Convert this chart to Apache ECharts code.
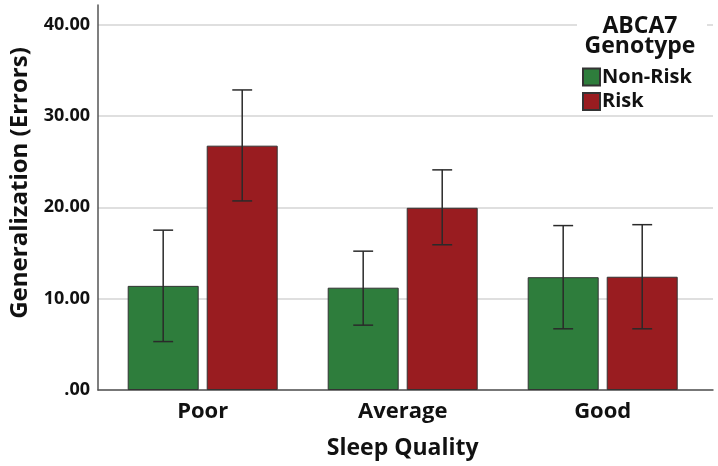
<!DOCTYPE html>
<html><head><meta charset="utf-8">
<script src="https://cdn.jsdelivr.net/npm/echarts@6/dist/echarts.min.js"></script>
<style>html,body{margin:0;padding:0;background:#fff}#c{width:718px;height:466px}</style>
</head><body><div id="c"></div>
<script>
const categories = ['Poor', 'Average', 'Good'];
const seriesNames = ['Non-Risk', 'Risk'];
const nonRiskMean = [11.4, 11.2, 12.35];
const riskMean = [26.75, 19.95, 12.4];
const nonRiskLow = [5.3, 7.1, 6.7];
const nonRiskHigh = [17.5, 15.2, 18.0];
const riskLow = [20.7, 15.9, 6.7];
const riskHigh = [32.85, 24.1, 18.1];
const yTickValues = [0, 10, 20, 30, 40];
const yTickLabels = ['.00', '10.00', '20.00', '30.00', '40.00'];
const yMax = 42.15;

const FONT = 'Open Sans';
const GREEN = '#2E7D3C', RED = '#991C20';
const BAR_FRAC = 0.355, GAP_FRAC = 0.113;

function errRenderer(sign) {
  return function (params, api) {
    const idx = api.value(0);
    const lo = api.coord([idx, api.value(1)]);
    const hi = api.coord([idx, api.value(2)]);
    const band = api.size([1, 0])[0];
    const bw = band * BAR_FRAC;
    const x = lo[0] + sign * bw * (1 + GAP_FRAC) / 2;
    const cap = bw * 0.14;
    const st = { stroke: '#2a2a2a', lineWidth: 1.5 };
    return { type: 'group', children: [
      { type: 'line', shape: { x1: x, y1: lo[1], x2: x, y2: hi[1] }, style: st },
      { type: 'line', shape: { x1: x - cap, y1: hi[1], x2: x + cap, y2: hi[1] }, style: st },
      { type: 'line', shape: { x1: x - cap, y1: lo[1], x2: x + cap, y2: lo[1] }, style: st }
    ]};
  };
}

const chart = echarts.init(document.getElementById('c'));
chart.setOption({
  backgroundColor: '#fff',
  animation: false,
  grid: [
    { left: 92, top: 5, width: 621, height: 385 },
    { left: 102.7, top: 5, width: 600, height: 385 }
  ],
  xAxis: [
    { gridIndex: 0, type: 'value', min: 0, max: 1, axisLine: { show: true, lineStyle: { color: '#555', width: 1.5 } },
      axisTick: { show: false }, axisLabel: { show: false }, splitLine: { show: false } },
    { gridIndex: 1, type: 'category', data: categories,
      axisLine: { show: false }, axisTick: { show: false },
      axisLabel: { color: '#111', fontFamily: FONT, fontWeight: 'bold', fontSize: 22, margin: 11 },
      name: 'Sleep Quality', nameLocation: 'middle', nameGap: 47,
      nameTextStyle: { color: '#111', fontFamily: FONT, fontWeight: 'bold', fontSize: 23 } }
  ],
  yAxis: [
    { gridIndex: 0, type: 'value', min: 0, max: yMax, interval: 10,
      axisLine: { show: true, lineStyle: { color: '#555', width: 1.5 } },
      axisTick: { show: false },
      axisLabel: { color: '#111', fontFamily: FONT, fontWeight: 'bold', fontSize: 18, margin: 8,
        formatter: v => { const i = yTickValues.indexOf(v); return i >= 0 ? yTickLabels[i] : ''; } },
      splitLine: { show: true, lineStyle: { color: ['#d4d4d4', '#d4d4d4', '#d4d4d4', '#d4d4d4', '#d4d4d4', 'rgba(0,0,0,0)'], width: 1.5 } },
      name: 'Generalization (Errors)', nameLocation: 'middle', nameGap: 66, nameRotate: 90,
      nameTextStyle: { color: '#111', fontFamily: FONT, fontWeight: 'bold', fontSize: 24, padding: [0, 0, 0, 29] } },
    { gridIndex: 1, type: 'value', min: 0, max: yMax, show: false, splitLine: { show: false } }
  ],
  legend: {
    data: seriesNames, orient: 'vertical', left: 582, top: 67, padding: 0, itemWidth: 17, itemHeight: 17, itemGap: 4.6,
    icon: 'rect', z: 20,
    textStyle: { color: '#111', fontFamily: FONT, fontWeight: 'bold', fontSize: 20, padding: [0, 0, 0, -3] }
  },
  graphic: [
    { type: 'rect', z: 10, shape: { x: 577, y: 8, width: 130, height: 102 }, style: { fill: '#fff' } },
    { type: 'text', z: 11, style: { x: 640, y: 16, text: 'ABCA7\nGenotype', textAlign: 'center', textVerticalAlign: 'top',
      font: 'bold 23px "Open Sans"', lineHeight: 20, fill: '#111' } }
  ],
  series: [
    { name: seriesNames[0], type: 'bar', xAxisIndex: 1, yAxisIndex: 1, data: nonRiskMean,
      barWidth: (BAR_FRAC * 100) + '%', barGap: (GAP_FRAC * 100) + '%',
      itemStyle: { color: GREEN, borderColor: '#333', borderWidth: 1 } },
    { name: seriesNames[1], type: 'bar', xAxisIndex: 1, yAxisIndex: 1, data: riskMean,
      barWidth: (BAR_FRAC * 100) + '%', barGap: (GAP_FRAC * 100) + '%',
      itemStyle: { color: RED, borderColor: '#333', borderWidth: 1 } },
    { type: 'custom', xAxisIndex: 1, yAxisIndex: 1, z: 5, renderItem: errRenderer(-1),
      encode: { x: 0, y: [1, 2] }, data: categories.map((c, i) => [i, nonRiskLow[i], nonRiskHigh[i]]) },
    { type: 'custom', xAxisIndex: 1, yAxisIndex: 1, z: 5, renderItem: errRenderer(1),
      encode: { x: 0, y: [1, 2] }, data: categories.map((c, i) => [i, riskLow[i], riskHigh[i]]) }
  ]
});
</script></body></html>
